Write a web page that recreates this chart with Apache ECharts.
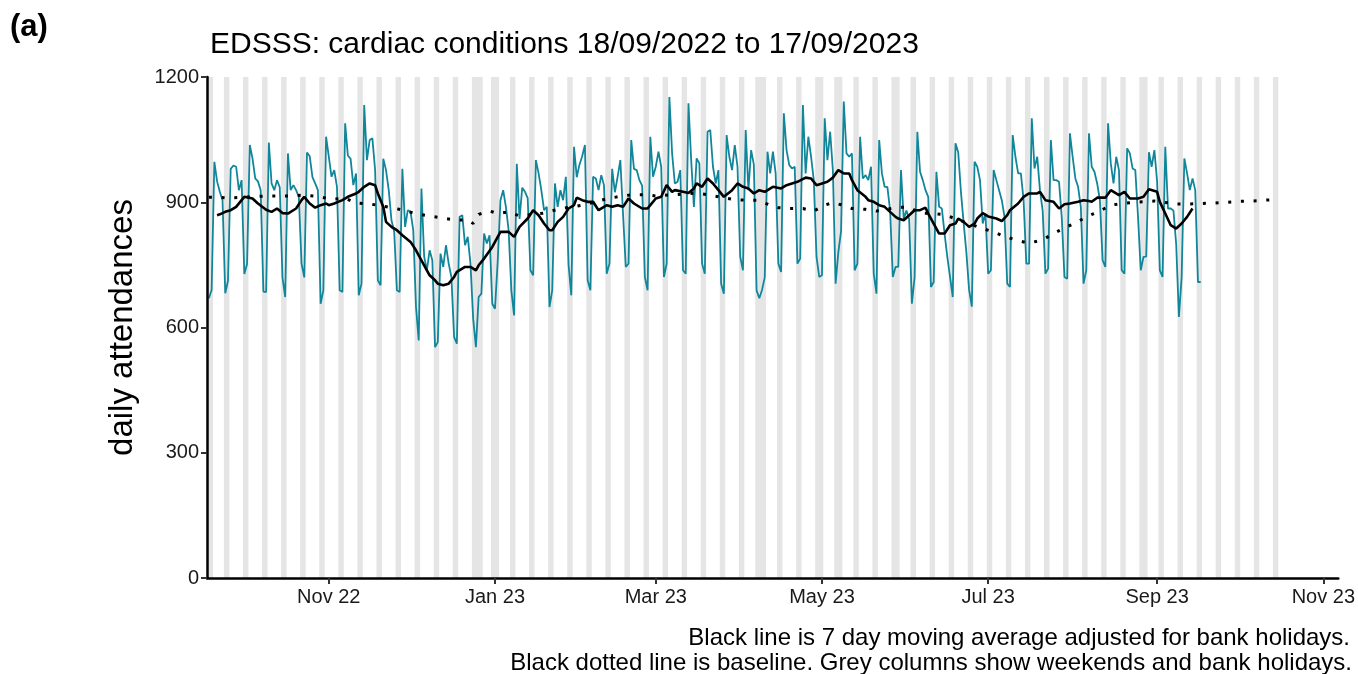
<!DOCTYPE html>
<html>
<head>
<meta charset="utf-8">
<script src="https://cdn.jsdelivr.net/npm/echarts@6/dist/echarts.min.js"></script>
<style>
html, body { margin: 0; padding: 0; background: #fff; }
#chart { width: 1358px; height: 674px; }
</style>
</head>
<body>
<div id="chart"></div>
<script>
// first day of the daily series (a Sunday)
var startDate = '2022-09-18'

// daily attendances, 18/09/2022 .. 17/09/2023, one row per Mon..Sun week
var daily = [
    670,
    690, 997, 950, 925, 905, 682, 712,
    980, 988, 985, 929, 953, 728, 752,
    1037, 1005, 957, 950, 929, 686, 685,
    1043, 945, 929, 953, 936, 720, 673,
    1017, 929, 941, 929, 913, 753, 720,
    1019, 1010, 960, 945, 929, 657, 689,
    1057, 1009, 961, 977, 937, 689, 685,
    1089, 1012, 1004, 941, 969, 677, 705,
    1133, 1001, 1049, 1053, 977, 713, 701,
    1004, 977, 929, 857, 830, 689, 685,
    980, 841, 881, 877, 833, 650, 569,
    933, 770, 737, 785, 761, 553, 565,
    777, 745, 797, 753, 721, 577, 561,
    865, 869, 797, 817, 753, 620, 553,
    673, 681, 825, 801, 821, 657, 645,
    760, 905, 929, 889, 833, 689, 629,
    992, 860, 935, 925, 910, 737, 725,
    1001, 969, 929, 881, 889, 649, 689,
    945, 889, 929, 905, 961, 750, 677,
    1033, 960, 990, 1010, 1037, 713, 689,
    961, 957, 929, 965, 941, 729, 753,
    980, 924, 961, 1001, 870, 745, 753,
    1049, 980, 977, 953, 940, 721, 689,
    1057, 961, 985, 1021, 985, 721, 753,
    1152, 1017, 945, 949, 977, 737, 729,
    1137, 1001, 889, 1005, 993, 753, 729,
    1069, 1073, 985, 945, 977, 705, 681,
    1061, 1009, 977, 1037, 985, 769, 737,
    1073, 929, 1025, 990, 689, 670, 690,
    720, 1021, 969, 1021, 969, 753, 733,
    1113, 1025, 989, 981, 985, 753, 765,
    1133, 969, 1057, 1009, 953, 769, 721,
    725, 1101, 1001, 1069, 977, 705, 780,
    830, 1141, 1017, 1009, 1017, 737, 753,
    1057, 957, 965, 953, 985, 729, 681,
    1049, 969, 937, 937, 881, 721, 745,
    745, 977, 860, 880, 860, 657, 721,
    1069, 973, 953, 929, 913, 697, 709,
    973, 889, 885, 825, 769, 721, 673,
    1041, 1020, 925, 850, 780, 690, 650,
    997, 985, 953, 849, 873, 729, 737,
    977, 953, 929, 905, 865, 705, 697,
    1061, 1009, 969, 969, 905, 753, 753,
    1101, 981, 1009, 929, 880, 729, 741,
    1049, 953, 953, 949, 865, 721, 717,
    1065, 1009, 957, 937, 889, 705, 737,
    1065, 985, 973, 945, 905, 761, 745,
    1089, 993, 945, 1009, 977, 737, 729,
    1029, 1017, 981, 977, 865, 737, 769,
    770, 1020, 985, 1025, 950, 737, 721,
    1033, 885, 885, 880, 800, 625, 720,
    1005, 969, 929, 957, 929, 709, 709
]

// 7 day moving average (adjusted for bank holidays): [day offset, value]
var movingAverage = [
    [3, 869], [4, 871], [6, 877], [8, 881], [10, 889], [12, 905], [13, 913], [16, 909], [18, 897],
    [21, 882], [23, 877], [25, 885], [27, 874], [29, 873], [32, 885], [34, 905], [35, 913], [37, 897],
    [39, 887], [41, 893], [43, 897], [44, 893], [46, 897], [49, 905], [51, 913], [54, 921], [55, 925],
    [57, 937], [59, 945], [61, 941], [62, 921], [64, 889], [65, 853], [67, 841], [69, 833], [71, 821],
    [74, 805], [76, 785], [78, 761], [80, 737], [81, 725], [83, 713], [84, 705], [86, 701], [88, 705],
    [90, 721], [91, 733], [94, 745], [96, 745], [98, 737], [99, 749], [101, 765], [104, 793], [106, 817],
    [107, 829], [110, 829], [112, 817], [114, 841], [117, 861], [119, 881], [121, 869], [123, 849],
    [125, 833], [126, 833], [128, 853], [130, 865], [132, 885], [134, 893], [135, 911], [137, 905],
    [139, 901], [141, 901], [143, 881], [145, 889], [146, 893], [148, 889], [150, 893], [152, 889],
    [154, 909], [156, 897], [159, 885], [161, 885], [162, 893], [164, 909], [166, 913], [168, 941],
    [170, 925], [171, 929], [174, 925], [176, 922], [178, 933], [179, 945], [181, 937], [183, 957],
    [185, 945], [187, 929], [189, 913], [192, 929], [194, 945], [196, 937], [198, 933], [200, 921],
    [202, 929], [204, 925], [207, 937], [210, 933], [212, 941], [214, 945], [216, 949], [219, 959],
    [221, 957], [223, 941], [225, 945], [227, 949], [229, 959], [231, 977], [233, 969], [235, 969],
    [236, 953], [238, 929], [241, 913], [242, 905], [244, 901], [246, 893], [248, 889], [250, 877],
    [252, 865], [253, 861], [255, 857], [257, 869], [259, 881], [261, 881], [263, 887], [264, 873],
    [266, 849], [268, 825], [270, 825], [272, 845], [274, 849], [275, 861], [277, 853], [279, 841],
    [281, 849], [282, 861], [284, 874], [286, 866], [289, 861], [291, 855], [293, 869], [294, 881],
    [297, 897], [299, 913], [301, 921], [304, 921], [305, 925], [307, 905], [310, 901], [312, 885],
    [314, 895], [316, 897], [319, 901], [321, 905], [323, 903], [324, 901], [326, 911], [329, 911],
    [331, 929], [334, 917], [336, 925], [338, 909], [341, 909], [343, 913], [345, 931], [348, 925],
    [349, 901], [351, 873], [353, 845], [355, 837], [357, 849], [359, 865], [361, 885]
]

// baseline: [day offset, value]
var baseline = [
    [0, 912], [4, 912], [7, 910], [21, 915], [26, 915], [30, 915], [35, 917], [40, 914], [45, 907],
    [50, 910], [54, 898], [59, 896], [68, 886], [73, 878], [77, 871], [82, 866], [87, 861], [91, 857],
    [95, 858], [97, 849], [99, 871], [103, 879], [106, 873], [110, 877], [114, 867], [123, 874],
    [128, 883], [137, 893], [146, 908], [150, 913], [155, 918], [160, 918], [164, 915], [179, 922],
    [183, 918], [193, 906], [197, 905], [201, 905], [206, 893], [209, 887], [213, 885], [218, 885],
    [222, 879], [226, 893], [229, 899], [232, 894], [236, 885], [241, 883], [245, 879], [253, 888],
    [257, 888], [261, 874], [266, 873], [270, 870], [283, 839], [288, 829], [292, 818], [297, 808],
    [301, 802], [306, 810], [310, 825], [314, 839], [318, 850], [322, 865], [327, 879], [331, 893],
    [336, 898], [340, 900], [347, 903], [355, 896], [360, 896], [364, 897], [369, 898], [374, 900],
    [378, 902], [383, 903], [390, 906]
]

var bankHolidays = ['2022-09-19', '2022-12-26', '2022-12-27', '2023-01-02', '2023-04-07',
    '2023-04-10', '2023-05-01', '2023-05-08', '2023-05-29', '2023-08-28']
var greyEndDate = '2023-10-15'

var tickDates = ['2022-11-01', '2023-01-01', '2023-03-01', '2023-05-01', '2023-07-01', '2023-09-01', '2023-11-01']
var tickLabels = ['Nov 22', 'Jan 23', 'Mar 23', 'May 23', 'Jul 23', 'Sep 23', 'Nov 23']

var titleText = 'EDSSS: cardiac conditions 18/09/2022 to 17/09/2023'
var footnotes = ['Black line is 7 day moving average adjusted for bank holidays.',
    'Black dotted line is baseline. Grey columns show weekends and bank holidays.']

var DAY = 86400000
function toUTC(s) {
    var p = s.split('-')
    return Date.UTC(+p[0], +p[1] - 1, +p[2])
}
var t0 = toUTC(startDate)
function dayOffset(s) { return Math.round((toUTC(s) - t0) / DAY) }

var tickDays = tickDates.map(dayOffset)

// grey columns: weekends and bank holidays, merged into runs
var bhDays = bankHolidays.map(dayOffset)
var greyEnd = dayOffset(greyEndDate)
var greyAreas = []
var runStart = null
for (var d = 0; d <= greyEnd + 1; d++) {
    var dow = new Date(t0 + d * DAY).getUTCDay()
    var grey = d <= greyEnd && (dow === 0 || dow === 6 || bhDays.indexOf(d) >= 0)
    if (grey && runStart === null) runStart = d
    if (!grey && runStart !== null) {
        greyAreas.push([{ xAxis: runStart - 0.5 }, { xAxis: d - 0.5 }])
        runStart = null
    }
}

var font = '"Liberation Sans", Arial, sans-serif'
var chart = echarts.init(document.getElementById('chart'))
chart.setOption({
    animation: false,
    backgroundColor: '#fff',
    title: [{
        text: '(a)', left: 5, top: 7,
        textStyle: { fontFamily: font, fontSize: 31, fontWeight: 'bold', color: '#000' }
    }, {
        text: titleText, left: 205, top: 25,
        textStyle: { fontFamily: font, fontSize: 30, fontWeight: 'normal', color: '#000' }
    }],
    graphic: [{
        type: 'text', right: 8, top: 626,
        style: { text: footnotes[0], font: '24px ' + font, fill: '#000', align: 'right' }
    }, {
        type: 'text', right: 6, top: 651,
        style: { text: footnotes[1], font: '24px ' + font, fill: '#000', align: 'right' }
    }],
    grid: { left: 207, right: 18, top: 77, bottom: 96, containLabel: false },
    xAxis: {
        type: 'value',
        min: -0.7,
        max: 414.5,
        z: 10,
        splitLine: { show: false },
        axisLine: { show: true, onZero: false, lineStyle: { color: '#000', width: 2.5 } },
        axisTick: { show: true, customValues: tickDays, length: 6, lineStyle: { color: '#333', width: 2 } },
        axisLabel: {
            customValues: tickDays, margin: 9, fontFamily: font, fontSize: 20, color: '#1a1a1a',
            formatter: function (v) { return tickLabels[tickDays.indexOf(Math.round(v))] }
        }
    },
    yAxis: {
        type: 'value',
        min: 0,
        max: 1200,
        interval: 300,
        z: 10,
        name: 'daily attendances',
        nameLocation: 'middle',
        nameRotate: 90,
        nameGap: 68,
        nameTextStyle: { fontFamily: font, fontSize: 33, color: '#000' },
        splitLine: { show: false },
        axisLine: { show: true, onZero: false, lineStyle: { color: '#000', width: 2.5 } },
        axisTick: { show: true, length: 6, lineStyle: { color: '#333', width: 2 } },
        axisLabel: {
            margin: 8, fontFamily: font, fontSize: 20, color: '#1a1a1a',
            formatter: function (v) { return String(v) }
        }
    },
    series: [{
        name: 'grey',
        type: 'line',
        data: [[0, null]],
        z: 0,
        silent: true,
        markArea: { silent: true, itemStyle: { color: '#e5e5e5' }, data: greyAreas }
    }, {
        name: 'daily',
        type: 'line',
        data: daily.map(function (v, i) { return [i, v] }),
        showSymbol: false,
        symbol: 'none',
        z: 2,
        lineStyle: { color: '#11869a', width: 1.8 }
    }, {
        name: 'baseline',
        type: 'line',
        data: baseline,
        symbol: 'none',
        z: 3,
        lineStyle: { color: '#000', width: 3, type: [3, 9.7] }
    }, {
        name: 'moving average',
        type: 'line',
        data: movingAverage,
        symbol: 'none',
        z: 4,
        lineStyle: { color: '#000', width: 2.6 }
    }]
})
</script>
</body>
</html>
